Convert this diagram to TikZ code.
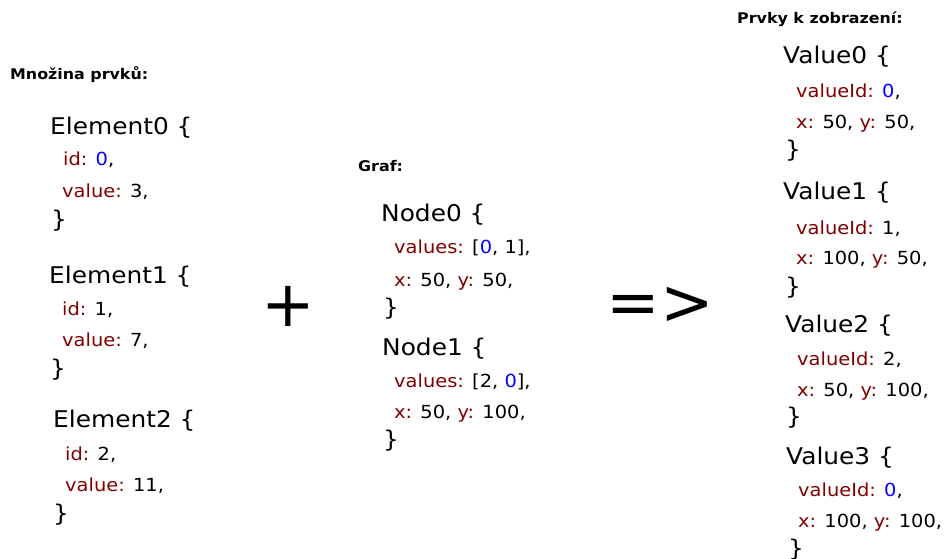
\documentclass[tikz,border=0pt]{standalone}
\usepackage{fontspec}
\setmainfont{DejaVu Sans}[FakeStretch=1.08]
\newfontfamily\opfont{DejaVu Sans}
\usetikzlibrary{positioning}
\definecolor{keyred}{RGB}{128,0,0}
\definecolor{numblue}{RGB}{0,0,255}
\newcommand{\ky}[1]{\textcolor{keyred}{#1}}
\newcommand{\nb}[1]{\textcolor{numblue}{#1}}

\begin{document}
\begin{tikzpicture}[
    x=1pt, y=-1pt,
    titletext/.style={anchor=base west, inner sep=0pt, font=\bfseries\fontsize{14.7}{18}\selectfont},
    head/.style={anchor=base west, inner sep=0pt, font=\fontsize{23}{28}\selectfont},
    field/.style={anchor=base west, inner sep=0pt, font=\fontsize{18}{22}\selectfont},
    op/.style={anchor=center, inner sep=0pt, font=\opfont\fontsize{64}{70}\selectfont}
]
\useasboundingbox (0,0) rectangle (946,559);

% mnozina prvku
\node[titletext] (setlbl) at (10,80) {Množina prvků:};
\node[head]  (el0)    at (50,135) {Element0 \{};
\node[field] (el0id)  at (63,166) {\ky{id:} \nb{0},};
\node[field] (el0val) at (62,197) {\ky{value:} 3,};
\node[head]  (el0end) at (51,228) {\}};
\node[head]  (el1)    at (49,283) {Element1 \{};
\node[field] (el1id)  at (62,315) {\ky{id:} 1,};
\node[field] (el1val) at (62,346) {\ky{value:} 7,};
\node[head]  (el1end) at (50,376) {\}};
\node[head]  (el2)    at (53,427) {Element2 \{};
\node[field] (el2id)  at (65,460) {\ky{id:} 2,};
\node[field] (el2val) at (65,491) {\ky{value:} 11,};
\node[head]  (el2end) at (53,521) {\}};

\node[op] (plus) at (288,306) {+};

% graf
\node[titletext] (graphlbl) at (358,172) {Graf:};
\node[head]  (nd0)    at (381,222) {Node0 \{};
\node[field] (nd0val) at (394,254) {\ky{values:} [\nb{0}, 1],};
\node[field] (nd0xy)  at (394,286) {\ky{x:} 50, \ky{y:} 50,};
\node[head]  (nd0end) at (383,315) {\}};
\node[head]  (nd1)    at (382,355) {Node1 \{};
\node[field] (nd1val) at (394,387) {\ky{values:} [2, \nb{0}],};
\node[field] (nd1xy)  at (394,418) {\ky{x:} 50, \ky{y:} 100,};
\node[head]  (nd1end) at (383,447) {\}};

\node[op] (implies) at (660,306) {=>};

% prvky k zobrazeni
\node[titletext] (showlbl) at (737,24) {Prvky k zobrazení:};
\node[head]  (vl0)    at (783,64)  {Value0 \{};
\node[field] (vl0id)  at (796,98)  {\ky{valueId:} \nb{0},};
\node[field] (vl0xy)  at (796,129) {\ky{x:} 50, \ky{y:} 50,};
\node[head]  (vl0end) at (785,158) {\}};
\node[head]  (vl1)    at (783,200) {Value1 \{};
\node[field] (vl1id)  at (796,234) {\ky{valueId:} 1,};
\node[field] (vl1xy)  at (796,265) {\ky{x:} 100, \ky{y:} 50,};
\node[head]  (vl1end) at (785,294) {\}};
\node[head]  (vl2)    at (785,332) {Value2 \{};
\node[field] (vl2id)  at (797,365) {\ky{valueId:} 2,};
\node[field] (vl2xy)  at (797,396) {\ky{x:} 50, \ky{y:} 100,};
\node[head]  (vl2end) at (786,424) {\}};
\node[head]  (vl3)    at (786,464) {Value3 \{};
\node[field] (vl3id)  at (798,496) {\ky{valueId:} \nb{0},};
\node[field] (vl3xy)  at (798,527) {\ky{x:} 100, \ky{y:} 100,};
\node[head]  (vl3end) at (788,556) {\}};
\end{tikzpicture}
\end{document}
